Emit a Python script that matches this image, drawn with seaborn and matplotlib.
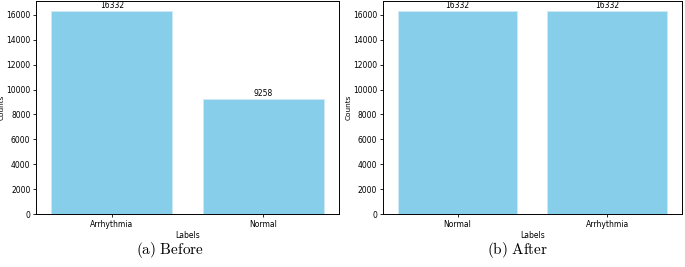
import pandas as pd
import seaborn as sns
from matplotlib import pyplot as plt

# data
labels_before = ['Arrhythmia', 'Normal']
counts_before = [16332, 9258]
labels_after = ['Normal', 'Arrhythmia']
counts_after = [16332, 16332]
captions = ['(a) Before', '(b) After']

plt.rcParams['mathtext.fontset'] = 'cm'
plt.rcParams['axes.linewidth'] = 0.7

fig = plt.figure(figsize=(6.85, 2.67), dpi=100)
ax1 = fig.add_axes([0.0526, 0.198, 0.4423, 0.80])
ax2 = fig.add_axes([0.559, 0.198, 0.4365, 0.80])

panels = [(ax1, labels_before, counts_before), (ax2, labels_after, counts_after)]
for ax, labs, cnts in panels:
    df = pd.DataFrame({'Labels': labs, 'Counts': cnts})
    sns.barplot(data=df, x='Labels', y='Counts', color='skyblue', saturation=1,
                width=0.8, edgecolor='#cfeaf6', linewidth=0.6, ax=ax)
    for c in ax.containers:
        ax.bar_label(c, fontsize=5.5, padding=0.5)
    ax.set_xlabel('Labels', fontsize=5.5, labelpad=2)
    ax.set_ylabel('Counts', fontsize=5.3, labelpad=1)
    ax.tick_params(labelsize=5.5, width=0.6, length=2.5, pad=1.5)
    ax.set_ylim(0, 16332 * 1.05)

fig.text(0.248, 0.065, r'$\mathrm{(a)\ Before}$', ha='center', va='center', fontsize=11)
fig.text(0.756, 0.065, r'$\mathrm{(b)\ After}$', ha='center', va='center', fontsize=11)

plt.savefig('out.png', dpi=100)
